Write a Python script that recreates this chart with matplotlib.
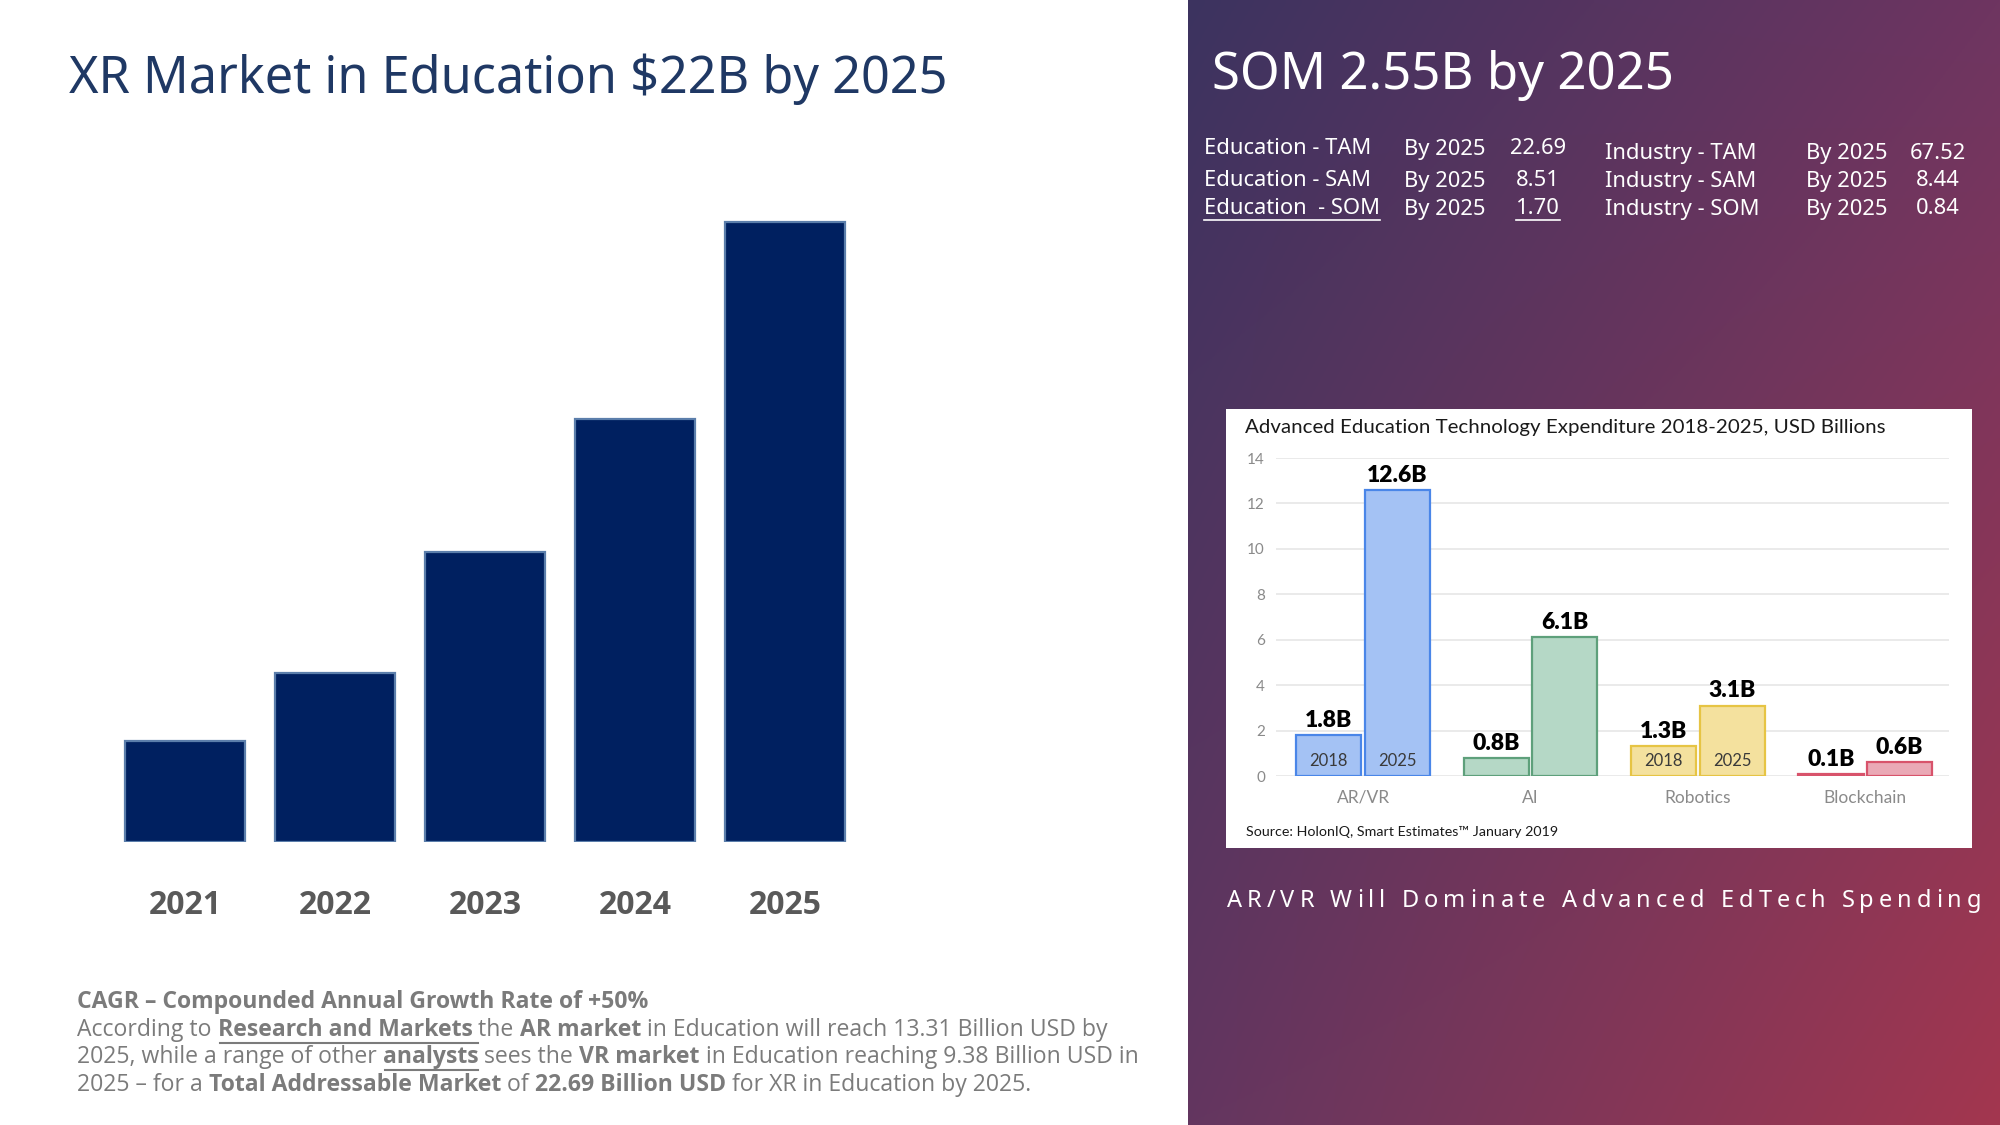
import matplotlib
matplotlib.use("Agg")
import matplotlib.pyplot as plt
import numpy as np
from matplotlib.colors import to_rgb
from matplotlib.font_manager import FontProperties
from matplotlib.lines import Line2D

W, H = 2000, 1125

# left chart: XR market in education (USD billions)
years = ["2021", "2022", "2023", "2024", "2025"]
market = [3.7, 6.2, 10.6, 15.5, 22.7]

# right table
edu_names = ["Education - TAM", "Education - SAM", "Education  - SOM"]
edu_vals = ["22.69", "8.51", "1.70"]
ind_names = ["Industry - TAM", "Industry - SAM", "Industry - SOM"]
ind_vals = ["67.52", "8.44", "0.84"]
by_year = "By 2025"

# inset chart: advanced edtech expenditure, USD billions
techs = ["AR/VR", "AI", "Robotics", "Blockchain"]
series = ["2018", "2025"]
spend_2018 = [1.8, 0.8, 1.3, 0.1]
spend_2025 = [12.6, 6.1, 3.1, 0.6]
fills = ["#a4c2f4", "#b5d8c6", "#f4e19e", "#eaa9b6"]
edges = ["#4a86e8", "#5ea07b", "#e6c444", "#d8536b"]

SANS = "Noto Sans"
BODY = "Open Sans"
INSET = "Lato"

fig = plt.figure(figsize=(20, 11.25), dpi=100)
fig.patch.set_facecolor("white")
R = fig.canvas.get_renderer()


def fx(x):
    return x / W


def fy(y):
    return 1 - y / H


def measure(s, size, weight="normal", family=SANS):
    fp = FontProperties(family=family, size=size, weight=weight)
    bar_w = R.get_text_width_height_descent("|", fp, ismath=False)[0]
    return R.get_text_width_height_descent(s + "|", fp, ismath=False)[0] - bar_w


def fit_text(x, y, s, width, color, weight="normal", family=SANS, ha="left", va="center"):
    size = 20 * width / measure(s, 20, weight, family)
    return fig.text(fx(x), fy(y), s, color=color, fontsize=size, fontweight=weight,
                    family=family, ha=ha, va=va)


def underline(x0, x1, y, color, lw=1.3):
    fig.add_artist(Line2D([fx(x0), fx(x1)], [fy(y), fy(y)], color=color, lw=lw,
                          transform=fig.transFigure))


def runs_line(x, y, runs, size, color):
    for s, bold, ul in runs:
        wt = "bold" if bold else "normal"
        fig.text(fx(x), fy(y), s, color=color, fontsize=size, fontweight=wt,
                 family=BODY, ha="left", va="center")
        w = measure(s, size, wt, BODY)
        if ul:
            underline(x + 2, x + w, y + size * 100 / 72 * 0.55, color, 1.5)
        x += w


# ---- right panel gradient ----
bg = fig.add_axes([fx(1188), 0, 1 - fx(1188), 1])
bg.axis("off")
tl, tr, bl, br = [np.array(to_rgb(c)) for c in ("#3c335f", "#6e3561", "#633660", "#a3374f")]
u = np.linspace(0, 1, 300)[None, :, None]
v = np.linspace(0, 1, 300)[:, None, None]
grad = (1 - v) * ((1 - u) * tl + u * tr) + v * ((1 - u) * bl + u * br)
bg.imshow(grad, aspect="auto")

# ---- left chart ----
ax = fig.add_axes([fx(110), fy(842), (860 - 110) / W, (842 - 200) / H])
ax.bar(range(len(years)), market, width=0.8, color="#002060", edgecolor="#5b7eab", linewidth=1.6)
ax.set_xlim(-0.5, len(years) - 0.5)
ax.set_ylim(0, 23.5)
for sp in ax.spines.values():
    sp.set_visible(False)
ax.set_yticks([])
ax.set_xticks(range(len(years)), years)
ysize = 26 * 73 / measure("2021", 26, "bold", BODY)
ax.tick_params(axis="x", length=0, pad=34, labelsize=ysize, labelcolor="#595959")
for lab in ax.get_xticklabels():
    lab.set_fontweight("bold")
    lab.set_family(BODY)

fit_text(69, 93, "XR Market in Education $22B by 2025", 880, "#1f3864", va="baseline")

# ---- bottom paragraph ----
lines = [
    [("CAGR \u2013 Compounded Annual Growth Rate of +50%", True, False)],
    [("According to ", False, False), ("Research and Markets ", True, True), ("the ", False, False),
     ("AR market", True, False), (" in Education will reach 13.31 Billion USD by", False, False)],
    [("2025, while a range of other ", False, False), ("analysts", True, True), (" sees the ", False, False),
     ("VR market", True, False), (" in Education reaching 9.38 Billion USD in", False, False)],
    [("2025 \u2013 for a ", False, False), ("Total Addressable Market", True, False), (" of ", False, False),
     ("22.69 Billion USD", True, False), (" for XR in Education by 2025.", False, False)],
]
w0 = sum(measure(s, 16, "bold" if b else "normal", BODY) for s, b, _ in lines[1])
psize = 16 * 1030 / w0
for ly, runs in zip([1002, 1030, 1057, 1085], lines):
    runs_line(77, ly, runs, psize, "#7b7b7b")

# ---- right title and table ----
fit_text(1212, 89, "SOM 2.55B by 2025", 463, "white", va="baseline")
tsize = 16 * 167 / measure("Education - TAM", 16)
for i, (y_l, y_r) in enumerate(zip([149, 181, 209], [154, 181, 209])):
    kw = dict(color="white", fontsize=tsize, family=SANS, va="center")
    fig.text(fx(1204), fy(y_l), edu_names[i], ha="left", **kw)
    fig.text(fx(1404), fy(y_l), by_year, ha="left", **kw)
    fig.text(fx(1538), fy(y_l), edu_vals[i], ha="center", **kw)
    fig.text(fx(1605), fy(y_r), ind_names[i], ha="left", **kw)
    fig.text(fx(1806), fy(y_r), by_year, ha="left", **kw)
    fig.text(fx(1938), fy(y_r), ind_vals[i], ha="center", **kw)
u_off = tsize * 100 / 72 * 0.5
underline(1204, 1204 + measure(edu_names[2], tsize), 209 + u_off, "white", 1.2)
wv = measure(edu_vals[2], tsize)
underline(1538 - wv / 2, 1538 + wv / 2, 209 + u_off, "white", 1.2)

# ---- inset chart ----
card = fig.add_axes([fx(1226), fy(848), (1972 - 1226) / W, (848 - 409) / H])
card.set_facecolor("white")
card.set_xticks([])
card.set_yticks([])
for sp in card.spines.values():
    sp.set_visible(False)

ix = fig.add_axes([fx(1276), fy(776), (1949 - 1276) / W, (776 - 458) / H])
ix.set_facecolor("none")
pos = np.arange(len(techs))
b1 = ix.bar(pos - 0.205, spend_2018, width=0.39, color=fills, edgecolor=edges, linewidth=1.6, zorder=3)
b2 = ix.bar(pos + 0.205, spend_2025, width=0.39, color=fills, edgecolor=edges, linewidth=1.6, zorder=3)
for cont, vals in ((b1, spend_2018), (b2, spend_2025)):
    ix.bar_label(cont, labels=[f"{v}B" for v in vals], padding=3, fontsize=16.5,
                 fontweight="heavy", family=INSET, color="black")
for i in (0, 2):
    for off, name in zip((-0.205, 0.205), series):
        ix.annotate(name, (pos[i] + off, 0), xytext=(0, 11), textcoords="offset points",
                    ha="center", va="center", fontsize=12, family=INSET, color="#3a3a3a", zorder=4)
ix.set_xlim(-0.52, 3.5)
ix.set_ylim(0, 14)
ix.set_yticks(range(0, 15, 2))
ix.grid(axis="y", color="#e4e4e4", lw=1.1, zorder=0)
for sp in ix.spines.values():
    sp.set_visible(False)
ix.set_xticks(pos, techs)
ix.tick_params(axis="x", length=0, pad=10, labelsize=12.5, labelcolor="#8a8a8a")
ix.tick_params(axis="y", length=0, pad=8, labelsize=11, labelcolor="#8a8a8a")
for lab in ix.get_xticklabels() + ix.get_yticklabels():
    lab.set_family(INSET)

fit_text(1245, 428, "Advanced Education Technology Expenditure 2018-2025, USD Billions", 639, "#1a1a1a",
         family=INSET)
fit_text(1246, 832, "Source: HolonIQ, Smart Estimates\u2122 January 2019", 311, "#1a1a1a", family=INSET)

# ---- letter-spaced caption ----
cap = "AR/VR Will Dominate Advanced EdTech Spending"
csize = 17
adv = [measure(cap[:i], csize) for i in range(len(cap) + 1)]
track = (754 - adv[-1]) / (len(cap) - 1)
for i, ch in enumerate(cap):
    if ch != " ":
        fig.text(fx(1227 + adv[i] + i * track), fy(901), ch, color="white", fontsize=csize,
                 family=SANS, ha="left", va="center")

fig.savefig("out.png", dpi=100, facecolor="white")
